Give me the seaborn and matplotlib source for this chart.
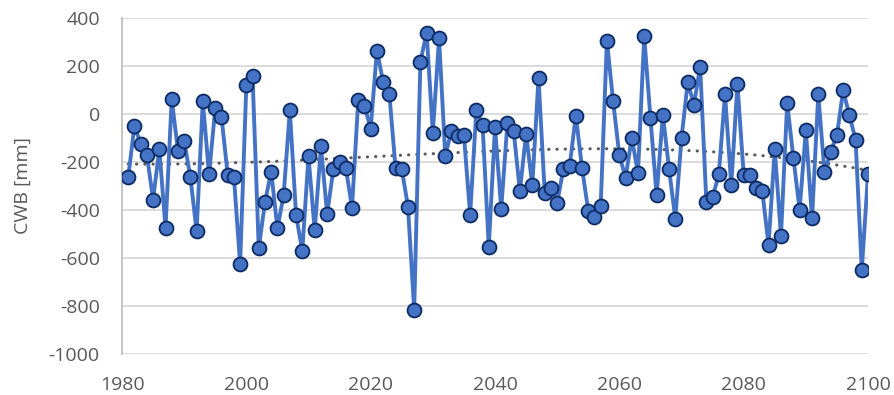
import numpy as np
import pandas as pd
import matplotlib
matplotlib.use("Agg")
import matplotlib.pyplot as plt
import seaborn as sns

years = list(range(1981, 2101))
cwb = [
    -264, -49, -124, -170, -357, -146, -474, 62, -153, -113,
    -263, -488, 54, -252, 23, -11, -253, -261, -627, 121,
    157, -560, -367, -240, -477, -338, 15, -422, -570, -177,
    -485, -135, -417, -231, -200, -224, -390, 57, 35, -61,
    264, 135, 85, -225, -229, -386, -817, 218, 339, -78,
    316, -174, -71, -93, -89, -420, 17, -46, -554, -56,
    -395, -38, -71, -321, -83, -297, 150, -329, -307, -370,
    -229, -218, -7, -225, -403, -428, -383, 305, 53, -172,
    -265, -99, -247, 323, -15, -339, -4, -229, -436, -101,
    132, 39, 197, -367, -346, -252, 82, -297, 125, -254,
    -256, -307, -322, -546, -147, -508, 44, -183, -399, -68,
    -435, 82, -242, -157, -89, 98, -4, -107, -650, -252,
]
y_ticks = [-1000, -800, -600, -400, -200, 0, 200, 400]
x_ticks = [1980, 2000, 2020, 2040, 2060, 2080, 2100]
y_label = "CWB [mm]"

df = pd.DataFrame({"year": years, "cwb": cwb})
coef = np.polyfit(df["year"] - 2040, df["cwb"], 3)
df["trend"] = np.polyval(coef, df["year"] - 2040)

sns.set_theme(style="white")
plt.rcParams["font.family"] = ["Open Sans", "DejaVu Sans"]
plt.rcParams["axes.unicode_minus"] = False

fig = plt.figure(figsize=(8.94, 3.95), dpi=100)
ax = fig.add_axes([122 / 894, 1 - 354 / 395, 746 / 894, 336 / 395])

ax.set_axisbelow(True)
for t in y_ticks:
    ax.axhline(t, color="#d9d9d9", lw=1.3, zorder=0)

sns.lineplot(data=df, x="year", y="cwb", ax=ax, color="#4472C4", lw=2.8,
             marker="o", markersize=10, markerfacecolor="#4472C4",
             markeredgecolor="#0c2a63", markeredgewidth=1.3, zorder=3)
sns.lineplot(data=df, x="year", y="trend", ax=ax, color="#595959", lw=2.2,
             linestyle=(0, (0.1, 2.6)), dash_capstyle="round", zorder=2)

ax.set_xlim(1980, 2100)
ax.set_ylim(-1000, 400)
ax.set_xticks(x_ticks)
ax.set_yticks(y_ticks)
ax.tick_params(axis="both", length=0, labelsize=14, colors="#595959")
ax.tick_params(axis="y", pad=16)
ax.tick_params(axis="x", pad=16)
ax.set_xlabel("")
ax.set_ylabel(y_label, fontsize=14, color="#595959", labelpad=12)
for s in ["top", "right", "bottom"]:
    ax.spines[s].set_visible(False)
ax.spines["left"].set_color("#bfbfbf")
ax.spines["left"].set_linewidth(1.3)
ax.grid(False)

fig.savefig("out.png", dpi=100)
